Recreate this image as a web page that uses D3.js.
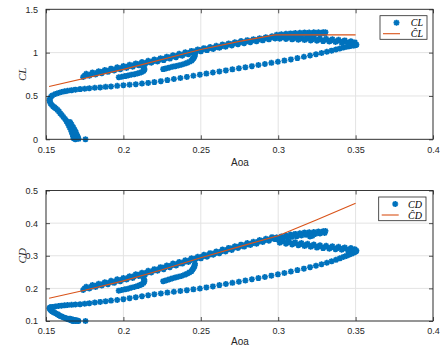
<!DOCTYPE html>
<html><head><meta charset="utf-8">
<script src="https://cdn.jsdelivr.net/npm/d3@7"></script>
<style>body{margin:0;background:#fff}svg{display:block}</style>
</head><body><svg id="c" width="446" height="348"></svg>
<script>
// ---- data: [aoa, CL, CD] ----
const startPoint = [[0.1755,0.0,0.1]];
const bottomCluster = [
[0.1523,0.45,0.139],[0.1526,0.43,0.136],[0.1531,0.41,0.133],[0.1538,0.395,0.130],[0.1546,0.38,0.128],
[0.1555,0.368,0.1255],[0.1564,0.355,0.123],[0.1574,0.34,0.121],[0.1583,0.322,0.118],[0.1592,0.30,0.1153],
[0.1602,0.28,0.1135],[0.1612,0.258,0.1115],[0.1623,0.235,0.1095],[0.1632,0.21,0.108],[0.164,0.185,0.1065],
[0.1647,0.16,0.105],[0.1654,0.135,0.104],[0.1661,0.11,0.103],[0.1666,0.085,0.102],[0.1671,0.06,0.101],
[0.1675,0.035,0.1005],[0.1678,0.012,0.100],[0.1655,0.2,0.107],[0.1665,0.17,0.1055],[0.1675,0.14,0.104],
[0.1685,0.11,0.103],[0.1693,0.08,0.102],[0.17,0.05,0.101],[0.1706,0.025,0.1005],[0.171,0.005,0.100],
[0.169,0.0,0.100],[0.1525,0.47,0.141],[0.1532,0.49,0.1425]
];
const sparseUp = [
[0.154,0.505,0.143],[0.156,0.522,0.1445],[0.158,0.535,0.146],[0.160,0.545,0.147],[0.162,0.553,0.148],
[0.164,0.56,0.149],[0.1665,0.567,0.1495],[0.169,0.573,0.1505],[0.172,0.579,0.1515],[0.175,0.584,0.153],
[0.178,0.589,0.1545],[0.1815,0.594,0.1565],[0.185,0.599,0.1585],[0.1885,0.605,0.1605],[0.192,0.61,0.1625],
[0.196,0.617,0.1645],[0.2,0.624,0.167],[0.204,0.63,0.17],[0.208,0.636,0.173],[0.212,0.643,0.176],
[0.216,0.651,0.179],[0.22,0.66,0.182],[0.2242,0.671,0.1845],[0.2284,0.683,0.187],[0.2326,0.695,0.1895],
[0.2368,0.707,0.192],[0.241,0.72,0.1945],[0.2452,0.733,0.197],[0.2494,0.746,0.1995],[0.2536,0.758,0.203],
[0.2578,0.771,0.206],[0.262,0.783,0.21],[0.2662,0.795,0.2135],[0.2704,0.807,0.217],[0.2746,0.819,0.2205],
[0.2788,0.831,0.224],[0.283,0.844,0.228],[0.2872,0.857,0.2315],[0.2914,0.869,0.235],[0.2956,0.882,0.239],
[0.2998,0.895,0.243],[0.304,0.908,0.247],[0.3082,0.922,0.2515],[0.3124,0.937,0.256],[0.3166,0.952,0.2605],
[0.3206,0.967,0.265],[0.3244,0.982,0.2695],[0.328,0.996,0.274],[0.3314,1.01,0.2785],[0.3345,1.023,0.283],
[0.3373,1.036,0.2875],[0.3398,1.048,0.292],[0.342,1.058,0.296],[0.344,1.067,0.2995],[0.3458,1.074,0.303],
[0.3474,1.079,0.306],[0.3488,1.083,0.309],[0.3496,1.086,0.3115],[0.3502,1.088,0.3135],[0.3505,1.092,0.3155]
];
const returnUpper = [
[0.3495,1.118,0.32],[0.347,1.132,0.3235],[0.343,1.141,0.3255],[0.339,1.148,0.3274],[0.335,1.154,0.329],
[0.331,1.159,0.3306],[0.327,1.163,0.3322],[0.323,1.167,0.3342],[0.319,1.171,0.3366],[0.315,1.175,0.339],
[0.311,1.179,0.3414],[0.307,1.183,0.3438],[0.303,1.187,0.3466]
];
const returnMid = [
[0.346,1.12,0.320],[0.342,1.1285,0.322],[0.338,1.135,0.3234],[0.334,1.141,0.3254],[0.330,1.146,0.327],
[0.326,1.15,0.3286],[0.322,1.154,0.3308],[0.318,1.158,0.3332],[0.314,1.162,0.3356],[0.310,1.166,0.338],
[0.306,1.17,0.3404],[0.302,1.174,0.3434]
];
const returnLower = [
[0.349,1.097,0.314],[0.345,1.108,0.3165],[0.341,1.116,0.3185],[0.337,1.123,0.3202],[0.333,1.128,0.3218],
[0.329,1.133,0.3234],[0.325,1.137,0.325],[0.321,1.141,0.3274],[0.317,1.145,0.3298],[0.313,1.149,0.3322],
[0.309,1.153,0.3346],[0.305,1.157,0.337],[0.301,1.161,0.3402]
];
const bandUpper = [
[0.176,0.755,0.205],[0.180,0.77,0.21],[0.184,0.785,0.214],[0.188,0.80,0.219],[0.192,0.815,0.223],
[0.196,0.83,0.228],[0.200,0.845,0.232],[0.204,0.86,0.237],[0.208,0.875,0.243],[0.212,0.891,0.248],
[0.216,0.906,0.254],[0.220,0.921,0.259],[0.224,0.936,0.265],[0.228,0.953,0.27],[0.232,0.969,0.276],
[0.236,0.986,0.281],[0.240,1.003,0.286],[0.244,1.02,0.292],[0.248,1.037,0.297],[0.252,1.052,0.303],
[0.256,1.065,0.308],[0.260,1.079,0.313],[0.264,1.093,0.319],[0.268,1.106,0.324],[0.272,1.12,0.329],
[0.276,1.133,0.334],[0.280,1.144,0.339],[0.284,1.155,0.343],[0.288,1.166,0.348],[0.292,1.178,0.352],
[0.296,1.189,0.357]
];
const bandMid = [
[0.175,0.736,0.2003],[0.179,0.751,0.2047],[0.183,0.766,0.2092],[0.187,0.781,0.2136],[0.191,0.796,0.218],
[0.195,0.811,0.2225],[0.199,0.826,0.2269],[0.203,0.841,0.2321],[0.207,0.857,0.2375],[0.211,0.872,0.243],
[0.215,0.887,0.2484],[0.219,0.902,0.2538],[0.223,0.917,0.2593],[0.227,0.933,0.2647],[0.231,0.95,0.2702],
[0.235,0.967,0.2756],[0.239,0.984,0.281],[0.243,1.001,0.2865],[0.247,1.017,0.2919],[0.251,1.033,0.2973],
[0.255,1.047,0.3026],[0.259,1.061,0.3079],[0.263,1.074,0.3132],[0.267,1.088,0.3184],[0.271,1.101,0.3237],
[0.275,1.115,0.329],[0.279,1.126,0.3335],[0.283,1.137,0.338],[0.287,1.149,0.3424],[0.291,1.16,0.3469],
[0.295,1.171,0.3514],[0.299,1.182,0.3559]
];
const bandLower = [
[0.174,0.718,0.195],[0.178,0.733,0.2],[0.182,0.748,0.204],[0.186,0.763,0.209],[0.190,0.778,0.213],
[0.194,0.793,0.217],[0.198,0.808,0.222],[0.202,0.823,0.227],[0.206,0.838,0.232],[0.210,0.853,0.238],
[0.214,0.868,0.243],[0.218,0.883,0.249],[0.222,0.899,0.254],[0.226,0.914,0.259],[0.230,0.931,0.265],
[0.234,0.948,0.27],[0.238,0.965,0.276],[0.242,0.981,0.281],[0.246,0.998,0.287],[0.250,1.015,0.292],
[0.254,1.029,0.297],[0.258,1.042,0.303],[0.262,1.056,0.308],[0.266,1.069,0.313],[0.270,1.083,0.318],
[0.274,1.097,0.324],[0.278,1.108,0.328],[0.282,1.12,0.333],[0.286,1.131,0.337],[0.290,1.142,0.342],
[0.294,1.153,0.346],[0.298,1.164,0.351]
];
const upperPiece = [
[0.299,1.205,0.355],[0.302,1.212,0.359],[0.305,1.218,0.362],[0.308,1.222,0.365],[0.311,1.226,0.367],
[0.314,1.229,0.369],[0.317,1.231,0.371],[0.320,1.233,0.372],[0.323,1.234,0.373],[0.326,1.235,0.374],
[0.329,1.236,0.375],[0.3305,1.236,0.376],
[0.300,1.19,0.35],[0.303,1.196,0.353],[0.306,1.2,0.356],[0.309,1.204,0.358],[0.312,1.207,0.36],
[0.315,1.21,0.362],[0.318,1.212,0.364],[0.321,1.214,0.365],[0.324,1.216,0.367],[0.327,1.218,0.368],
[0.330,1.22,0.37],[0.3205,1.19,0.359],[0.322,1.195,0.361]
];
const hookA = [
[0.197,0.716,0.193],[0.199,0.722,0.195],[0.201,0.729,0.197],[0.203,0.736,0.199],[0.205,0.744,0.202],
[0.207,0.751,0.204],[0.209,0.759,0.207],[0.2105,0.767,0.210],[0.212,0.777,0.213],[0.213,0.789,0.217],
[0.2135,0.802,0.221],[0.2135,0.815,0.226],[0.213,0.828,0.231]
];
const hookB = [
[0.2257,0.81,0.222],[0.2275,0.818,0.2245],[0.2295,0.827,0.2275],[0.2315,0.836,0.2305],[0.2335,0.844,0.233],
[0.2355,0.852,0.2355],[0.2375,0.861,0.238],[0.2395,0.871,0.2415],[0.2412,0.882,0.245],[0.2427,0.894,0.249],
[0.244,0.907,0.253],[0.2445,0.92,0.257],[0.2452,0.934,0.2615],[0.2457,0.948,0.266],[0.246,0.962,0.2705],
[0.2462,0.976,0.275]
];
// fitted curves
const fitAoaCL = [0.152,0.2,0.25,0.275,0.298,0.35];
const fitCL    = [0.61,0.807,1.037,1.13,1.205,1.205];
const fitAoaCD = [0.152,0.175,0.2,0.225,0.25,0.275,0.3,0.325,0.35];
const fitCD    = [0.170,0.194,0.223,0.257,0.294,0.328,0.361,0.41,0.461];
// ticks
const aoaTicks = [0.15,0.2,0.25,0.3,0.35,0.4];
const aoaTickLabels = ["0.15","0.2","0.25","0.3","0.35","0.4"];
const clTicks = [0,0.5,1,1.5];
const clTickLabels = ["0","0.5","1","1.5"];
const cdTicks = [0.1,0.2,0.3,0.4,0.5];
const cdTickLabels = ["0.1","0.2","0.3","0.4","0.5"];

const allPts = [].concat(startPoint,bottomCluster,sparseUp,returnUpper,returnMid,returnLower,
  bandUpper,bandMid,bandLower,upperPiece,hookA,hookB);

const BLUE="#0072BD", ORANGE="#D95319", AX="#262626";
const svg = d3.select("#c");
const starPath = "M-3,0H3M0,-3V3M-2.2,-2.2L2.2,2.2M-2.2,2.2L2.2,-2.2";

function panel(cfg){
  const x = d3.scaleLinear().domain([0.15,0.4]).range([46,433]);
  const y = d3.scaleLinear().domain(cfg.ydom).range([cfg.bottom,cfg.top]);
  const g = svg.append("g");
  // grid
  g.selectAll(".gx").data(aoaTicks).join("line")
    .attr("x1",d=>x(d)).attr("x2",d=>x(d)).attr("y1",cfg.top).attr("y2",cfg.bottom)
    .attr("stroke","#e3e3e3").attr("stroke-width",1);
  g.selectAll(".gy").data(cfg.yticks).join("line")
    .attr("x1",46).attr("x2",433).attr("y1",d=>y(d)).attr("y2",d=>y(d))
    .attr("stroke","#e3e3e3").attr("stroke-width",1);
  // scatter
  g.append("g").selectAll("path").data(allPts).join("path")
    .attr("d",starPath).attr("transform",d=>`translate(${x(d[0])},${y(d[cfg.k])})`)
    .attr("fill","none").attr("stroke",BLUE).attr("stroke-width",1.7);
  // fit line
  const line = d3.line().x(d=>x(d[0])).y(d=>y(d[1]));
  g.append("path").attr("d",line(cfg.fx.map((a,i)=>[a,cfg.fy[i]])))
    .attr("fill","none").attr("stroke",ORANGE).attr("stroke-width",1.1);
  // axes (inward ticks, mirrored)
  const bx = d3.axisBottom(x).tickValues(aoaTicks).tickSizeInner(-4).tickSizeOuter(0).tickFormat((d,i)=>aoaTickLabels[i]).tickPadding(7);
  const tx = d3.axisTop(x).tickValues(aoaTicks).tickSizeInner(-4).tickSizeOuter(0).tickFormat("");
  const ly = d3.axisLeft(y).tickValues(cfg.yticks).tickSizeInner(-4).tickSizeOuter(0).tickFormat((d,i)=>cfg.ylabels[i]).tickPadding(8);
  const ry = d3.axisRight(y).tickValues(cfg.yticks).tickSizeInner(-4).tickSizeOuter(0).tickFormat("");
  const axes = [
    g.append("g").attr("transform",`translate(0,${cfg.bottom})`).call(bx),
    g.append("g").attr("transform",`translate(0,${cfg.top})`).call(tx),
    g.append("g").attr("transform",`translate(46,0)`).call(ly),
    g.append("g").attr("transform",`translate(433,0)`).call(ry)
  ];
  axes.forEach(a=>{
    a.select(".domain").remove();
    a.selectAll("line").attr("stroke",AX).attr("stroke-width",0.8);
    a.selectAll("text").attr("fill",AX).attr("font-family","'Liberation Sans',Arial,sans-serif").attr("font-size",9);
  });
  g.append("rect").attr("x",46).attr("y",cfg.top).attr("width",387).attr("height",cfg.bottom-cfg.top)
    .attr("fill","none").attr("stroke",AX).attr("stroke-width",0.9);
  // axis labels
  g.append("text").attr("x",240).attr("y",cfg.bottom+cfg.xlabOff).attr("text-anchor","middle")
    .attr("font-family","'Liberation Sans',Arial,sans-serif").attr("font-size",10).attr("fill",AX).text("Aoa");
  const cy=(cfg.top+cfg.bottom)/2;
  g.append("text").attr("transform",`translate(26,${cy}) rotate(-90)`).attr("text-anchor","middle")
    .attr("font-family","'Liberation Serif','Times New Roman',serif").attr("font-style","italic")
    .attr("font-size",11).attr("fill",AX).text(cfg.yname);
  // legend
  const L = cfg.leg;
  g.append("rect").attr("x",L.x).attr("y",L.y).attr("width",L.w).attr("height",L.h)
    .attr("fill","#fff").attr("stroke",AX).attr("stroke-width",0.8);
  g.append("path").attr("d",starPath).attr("transform",`translate(${L.x+16.5},${L.y+7})`)
    .attr("fill","none").attr("stroke",BLUE).attr("stroke-width",1.7);
  g.append("line").attr("x1",L.x+3).attr("x2",L.x+20).attr("y1",L.y+18).attr("y2",L.y+18)
    .attr("stroke",ORANGE).attr("stroke-width",1.1);
  g.append("text").attr("x",L.x+L.w-4).attr("y",L.y+10.5).attr("text-anchor","end")
    .attr("font-family","'Liberation Serif','Times New Roman',serif").attr("font-style","italic")
    .attr("font-size",10).attr("fill","#000").text(cfg.yname);
  g.append("text").attr("x",L.x+L.w-4).attr("y",L.y+21.5).attr("text-anchor","end")
    .attr("font-family","'Liberation Serif','Times New Roman',serif").attr("font-style","italic")
    .attr("font-size",10).attr("fill","#000").text(cfg.hatname);
}

panel({k:1, ydom:[0,1.5], top:9.3, bottom:139.3, yticks:clTicks, ylabels:clTickLabels, xlabOff:27,
  fx:fitAoaCL, fy:fitCL, yname:"CL", hatname:"\u0108L", leg:{x:380,y:15.7,w:47,h:23.6}});
panel({k:2, ydom:[0.1,0.5], top:190.5, bottom:321, yticks:cdTicks, ylabels:cdTickLabels, xlabOff:24,
  fx:fitAoaCD, fy:fitCD, yname:"CD", hatname:"\u0108D", leg:{x:378.7,y:197,w:47.3,h:23.7}});
</script></body></html>
